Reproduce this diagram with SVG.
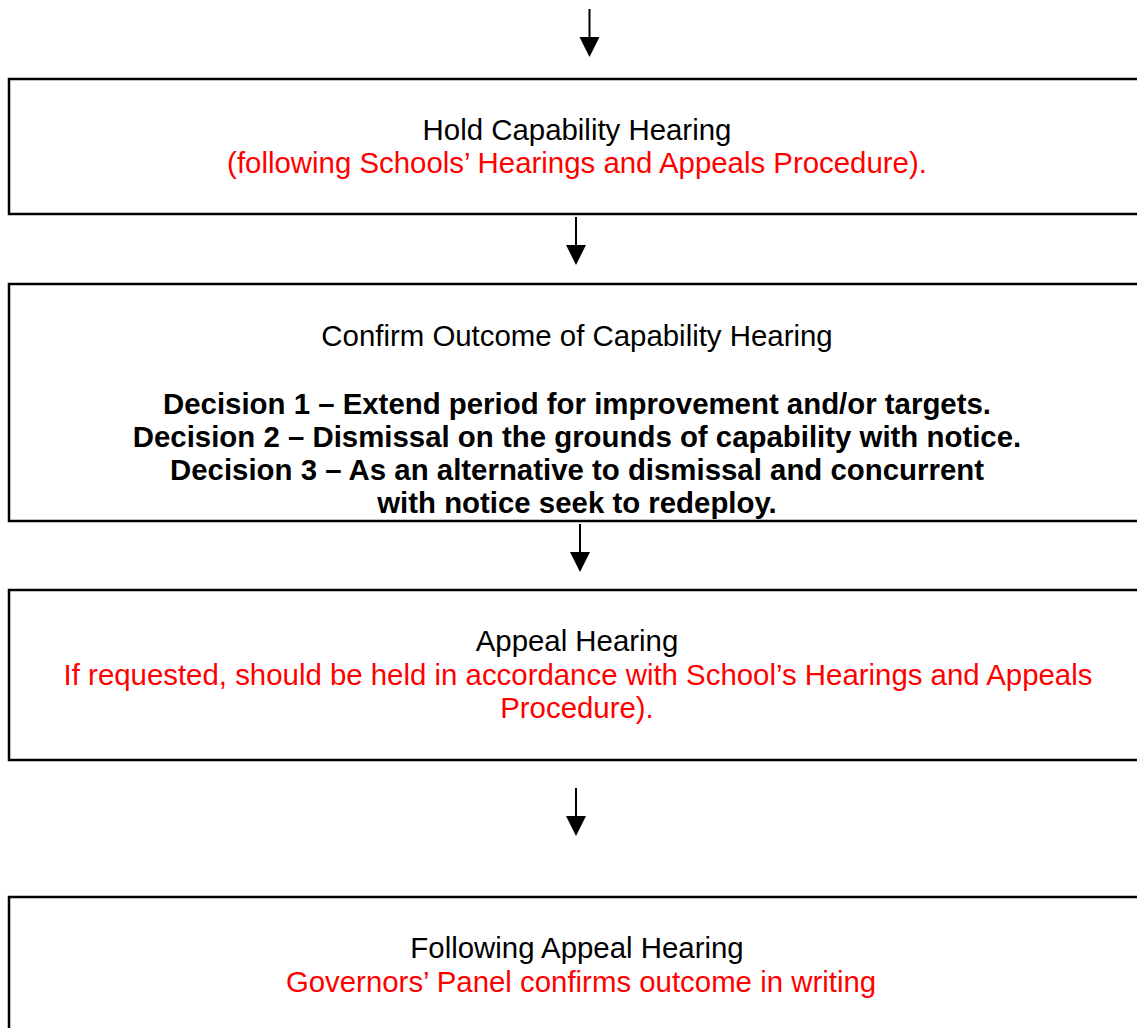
<svg xmlns="http://www.w3.org/2000/svg" width="1137" height="1028" viewBox="0 0 1137 1028">
<defs>
<style>
.box{fill:#fff;stroke:#000;stroke-width:2.5}
.t{font-family:"Liberation Sans",Arial,sans-serif;font-size:29.4px;text-anchor:middle;fill:#000}
.r{fill:#ff0000}
.b{font-weight:bold}
.ln{stroke:#000;stroke-width:2}
.hd{fill:#000}
</style>
</defs>
<rect width="1137" height="1028" fill="#fff"/>
<g id="connectors">
<line class="ln" x1="589.5" y1="9" x2="589.5" y2="38"/>
<polygon class="hd" points="579.5,37 599.5,37 589.5,57"/>
<line class="ln" x1="576" y1="217" x2="576" y2="246"/>
<polygon class="hd" points="566,245 586,245 576,265"/>
<line class="ln" x1="580" y1="524" x2="580" y2="553"/>
<polygon class="hd" points="570,552 590,552 580,572"/>
<line class="ln" x1="576" y1="788" x2="576" y2="817"/>
<polygon class="hd" points="566,816 586,816 576,836"/>
</g>
<g id="node1">
<rect class="box" x="9" y="79" width="1140" height="135"/>
<text class="t" x="577" y="140">Hold Capability Hearing</text>
<text class="t r" x="577" y="173">(following Schools’ Hearings and Appeals Procedure).</text>
</g>
<g id="node2">
<rect class="box" x="9" y="284" width="1140" height="237"/>
<text class="t" x="577" y="346">Confirm Outcome of Capability Hearing</text>
<text class="t b" x="577" y="414">Decision 1 – Extend period for improvement and/or targets.</text>
<text class="t b" x="577" y="447">Decision 2 – Dismissal on the grounds of capability with notice.</text>
<text class="t b" x="577" y="480">Decision 3 – As an alternative to dismissal and concurrent</text>
<text class="t b" x="577" y="513">with notice seek to redeploy.</text>
</g>
<g id="node3">
<rect class="box" x="9" y="590" width="1140" height="170"/>
<text class="t" x="577" y="651">Appeal Hearing</text>
<text class="t r" x="578" y="685">If requested, should be held in accordance with School’s Hearings and Appeals</text>
<text class="t r" x="577" y="718">Procedure).</text>
</g>
<g id="node4">
<rect class="box" x="9" y="897" width="1140" height="150"/>
<text class="t" x="577" y="958">Following Appeal Hearing</text>
<text class="t r" x="581" y="992">Governors’ Panel confirms outcome in writing</text>
</g>
</svg>
